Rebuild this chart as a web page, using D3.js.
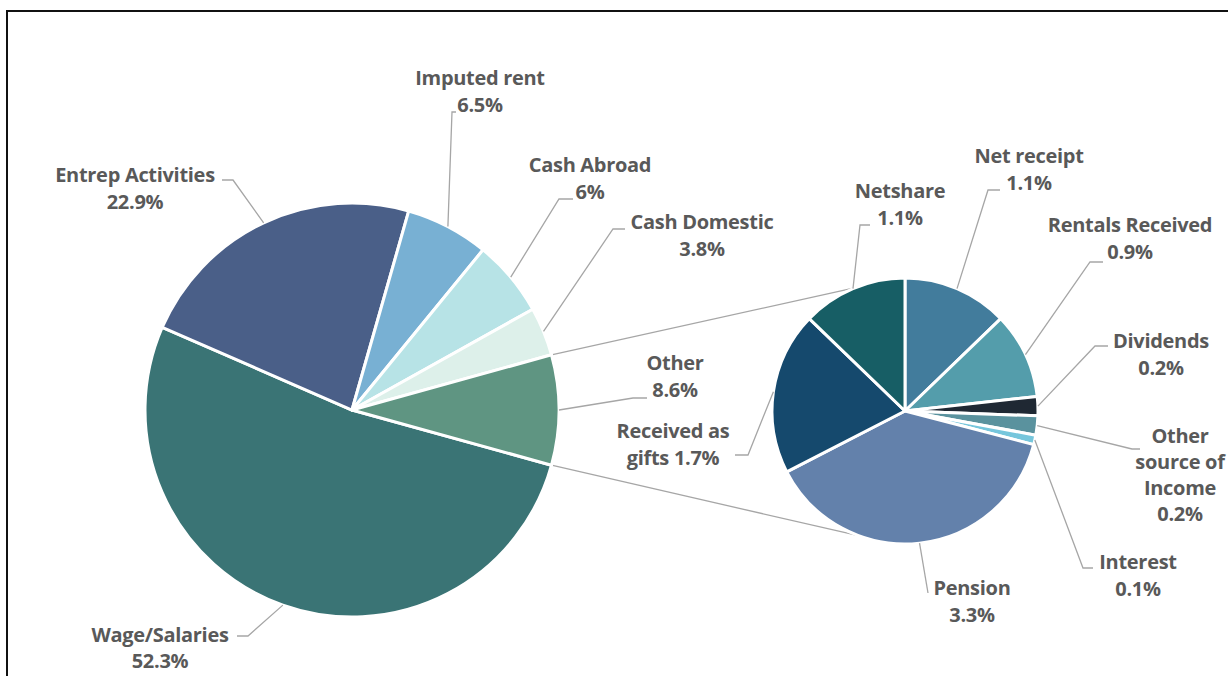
<!DOCTYPE html>
<html>
<head>
<meta charset="utf-8">
<script src="https://cdn.jsdelivr.net/npm/d3@7"></script>
<style>
  html, body { margin: 0; padding: 0; background: #fff; }
  svg { display: block; }
  .lbl { font-family: "Open Sans", Lato, sans-serif; font-weight: 700; font-size: 20px; fill: #595959; letter-spacing: -0.3px; }
</style>
</head>
<body>
<div id="chart"></div>
<script>
// main pie (Excel pie-of-pie), "Other" is split out into the second pie
const mainNames  = ['Wage/Salaries', 'Entrep Activities', 'Imputed rent', 'Cash Abroad', 'Cash Domestic', 'Other'];
const mainValues = [52.3, 22.9, 6.5, 6, 3.8, 8.6];

const subNames  = ['Net receipt', 'Rentals Received', 'Dividends', 'Other source of Income', 'Interest', 'Pension', 'Received as gifts', 'Netshare'];
const subValues = [1.1, 0.9, 0.2, 0.2, 0.1, 3.3, 1.7, 1.1];

const mainColors = ['#3a7475', '#4a5f88', '#78b0d3', '#b7e3e6', '#ddf0ea', '#5f9582'];
const subColors  = ['#427c9c', '#549dab', '#1f2833', '#5a929e', '#76c6dc', '#6381ab', '#15496d', '#175e65'];

// label placement (text centre x, first baseline y, leader end at text hx, elbow ex/ey)
const labelPos = {
  'Wage/Salaries':          { x: 160,  y: 642, hx: 237,  ex: 248,  ey: 636, gap: 26 },
  'Entrep Activities':      { x: 135,  y: 182, hx: 222,  ex: 233,  ey: 180 },
  'Imputed rent':           { x: 480,  y: 85,  hx: 456,  ex: 452,  ey: 112 },
  'Cash Abroad':            { x: 590,  y: 172, hx: 573,  ex: 559,  ey: 199 },
  'Cash Domestic':          { x: 702,  y: 229, hx: 625,  ex: 613,  ey: 229 },
  'Other':                  { x: 675,  y: 370, hx: 647,  ex: 633,  ey: 398 },
  'Net receipt':            { x: 1029, y: 163, hx: 1000, ex: 988,  ey: 190 },
  'Rentals Received':       { x: 1130, y: 232, hx: 1103, ex: 1090, ey: 262 },
  'Dividends':              { x: 1161, y: 348, hx: 1108, ex: 1095, ey: 346 },
  'Other source of Income': { x: 1180, y: 443, hx: 1140, ex: 1132, ey: 449, gap: 26, wrap: ['Other', 'source of', 'Income'] },
  'Interest':               { x: 1138, y: 569, hx: 1093, ex: 1083, ey: 568 },
  'Pension':                { x: 972,  y: 595, hx: 928,  ex: 928,  ey: 593 },
  'Received as gifts':      { x: 673,  y: 438, hx: 735,  ex: 748,  ey: 455, wrap: ['Received as', 'gifts'], inline: true },
  'Netshare':               { x: 900,  y: 198, hx: 870,  ex: 860,  ey: 225 },
};

const W = 1228, H = 676, LH = 27;
const main = { cx: 352, cy: 410, r: 207 };
const sub  = { cx: 905, cy: 411, r: 133 };

const svg = d3.select('#chart').append('svg').attr('width', W).attr('height', H);

// frame (right/bottom run off the picture)
svg.append('rect').attr('x', 7).attr('y', 11).attr('width', W + 40).attr('height', H + 40)
  .attr('fill', 'none').attr('stroke', '#111').attr('stroke-width', 2);

// main pie is rotated so that "Other" sits centred on the right (3 o'clock)
const total = d3.sum(mainValues);
const a0 = Math.PI / 2 + Math.PI * mainValues[5] / total;
const mainArcs = d3.pie().sort(null).startAngle(a0).endAngle(a0 + 2 * Math.PI)(mainValues)
  .map((d, i) => ({ ...d, name: mainNames[i], color: mainColors[i] }));
const subArcs = d3.pie().sort(null)(subValues)
  .map((d, i) => ({ ...d, name: subNames[i], color: subColors[i] }));

const edge = (p, ang) => [p.cx + p.r * Math.sin(ang), p.cy - p.r * Math.cos(ang)];

// connector lines between "Other" and the second pie
const other = mainArcs[5];
const conn = [
  [edge(main, other.startAngle), edge(sub, -22.3 * Math.PI / 180)],
  [edge(main, other.endAngle),   edge(sub, 200 * Math.PI / 180)],
];
svg.append('g').selectAll('line').data(conn).join('line')
  .attr('x1', d => d[0][0]).attr('y1', d => d[0][1]).attr('x2', d => d[1][0]).attr('y2', d => d[1][1])
  .attr('stroke', '#a6a6a6').attr('stroke-width', 1.3);

function drawPie(p, arcs) {
  const arc = d3.arc().innerRadius(0).outerRadius(p.r);
  svg.append('g').attr('transform', `translate(${p.cx},${p.cy})`)
    .selectAll('path').data(arcs).join('path')
    .attr('d', arc).attr('fill', d => d.color)
    .attr('stroke', '#fff').attr('stroke-width', 3).attr('stroke-linejoin', 'round');
}
drawPie(main, mainArcs);
drawPie(sub, subArcs);

// leader lines + labels
function drawLabels(p, arcs) {
  arcs.forEach(d => {
    const L = labelPos[d.name];
    if (!L) return;
    const mid = (d.startAngle + d.endAngle) / 2;
    const [ax, ay] = edge(p, mid);
    svg.append('polyline')
      .attr('points', [[L.hx, L.ey], [L.ex, L.ey], [ax, ay]].map(q => q.join(',')).join(' '))
      .attr('fill', 'none').attr('stroke', '#a6a6a6').attr('stroke-width', 1.3);
    const pct = `${d.data}%`;
    let lines;
    if (L.wrap && L.inline) lines = [...L.wrap.slice(0, -1), `${L.wrap[L.wrap.length - 1]} ${pct}`];
    else if (L.wrap) lines = [...L.wrap, pct];
    else lines = [d.name, pct];
    const t = svg.append('text').attr('class', 'lbl').attr('text-anchor', 'middle');
    lines.forEach((s, i) => t.append('tspan').attr('x', L.x).attr('y', L.y + i * (L.gap || LH)).text(s));
  });
}
drawLabels(main, mainArcs);
drawLabels(sub, subArcs);
</script>
</body>
</html>
